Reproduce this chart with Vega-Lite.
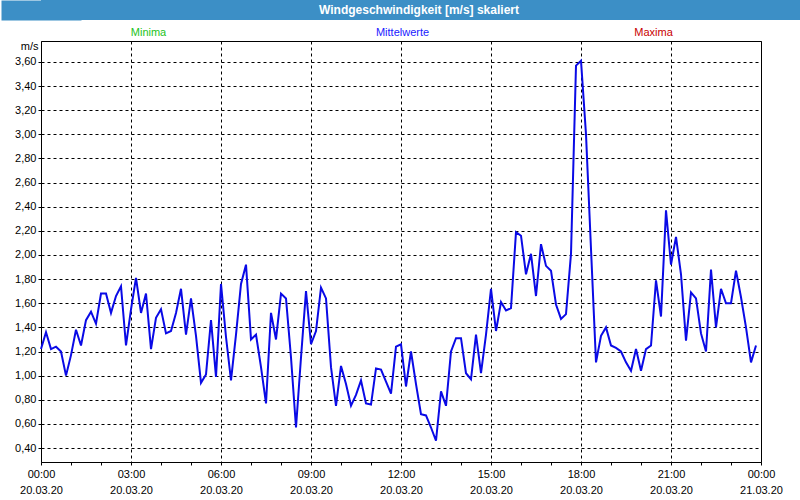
{
  "$schema": "https://vega.github.io/schema/vega-lite/v6.json",
  "padding": 0,
  "autosize": {"type": "pad"},
  "background": "#ffffff",
  "spacing": 0,
  "config": {"font": "Liberation Sans", "concat": {"spacing": 0}},
  "vconcat": [
    {
      "width": 760,
      "height": 20,
      "view": {"fill": "#3c8fc6", "stroke": null},
      "data": {"values": [{"title": "Windgeschwindigkeit [m/s] skaliert"}]},
      "mark": {"type": "text", "color": "#ffffff", "fontWeight": "bold", "fontSize": 12, "dx": -2, "baseline": "middle"},
      "encoding": {
        "text": {"field": "title", "type": "nominal"},
        "y": {
          "datum": 0,
          "type": "quantitative",
          "scale": {"domain": [-1, 1]},
          "axis": {"domain": true, "domainColor": "#3c8fc6", "domainWidth": 80, "domainCap": "butt", "ticks": false, "labels": false, "grid": false, "title": null, "minExtent": 40, "maxExtent": 40}
        }
      }
    },
    {
      "width": 720,
      "height": 421,
      "view": {"stroke": "#000000", "strokeWidth": 1, "fill": "#ffffff"},
      "data": {"values": [
        {"t":"2020-03-20T00:00:00Z","v":1.22},{"t":"2020-03-20T00:10:00Z","v":1.36},{"t":"2020-03-20T00:20:00Z","v":1.22},{"t":"2020-03-20T00:30:00Z","v":1.24},{"t":"2020-03-20T00:40:00Z","v":1.20},{"t":"2020-03-20T00:50:00Z","v":1.00},
        {"t":"2020-03-20T01:00:00Z","v":1.17},{"t":"2020-03-20T01:10:00Z","v":1.38},{"t":"2020-03-20T01:20:00Z","v":1.25},{"t":"2020-03-20T01:30:00Z","v":1.46},{"t":"2020-03-20T01:40:00Z","v":1.53},{"t":"2020-03-20T01:50:00Z","v":1.43},
        {"t":"2020-03-20T02:00:00Z","v":1.68},{"t":"2020-03-20T02:10:00Z","v":1.68},{"t":"2020-03-20T02:20:00Z","v":1.52},{"t":"2020-03-20T02:30:00Z","v":1.66},{"t":"2020-03-20T02:40:00Z","v":1.74},{"t":"2020-03-20T02:50:00Z","v":1.25},
        {"t":"2020-03-20T03:00:00Z","v":1.55},{"t":"2020-03-20T03:10:00Z","v":1.81},{"t":"2020-03-20T03:20:00Z","v":1.52},{"t":"2020-03-20T03:30:00Z","v":1.68},{"t":"2020-03-20T03:40:00Z","v":1.22},{"t":"2020-03-20T03:50:00Z","v":1.48},
        {"t":"2020-03-20T04:00:00Z","v":1.55},{"t":"2020-03-20T04:10:00Z","v":1.35},{"t":"2020-03-20T04:20:00Z","v":1.37},{"t":"2020-03-20T04:30:00Z","v":1.52},{"t":"2020-03-20T04:40:00Z","v":1.72},{"t":"2020-03-20T04:50:00Z","v":1.34},
        {"t":"2020-03-20T05:00:00Z","v":1.64},{"t":"2020-03-20T05:10:00Z","v":1.33},{"t":"2020-03-20T05:20:00Z","v":0.94},{"t":"2020-03-20T05:30:00Z","v":1.01},{"t":"2020-03-20T05:40:00Z","v":1.46},{"t":"2020-03-20T05:50:00Z","v":0.99},
        {"t":"2020-03-20T06:00:00Z","v":1.76},{"t":"2020-03-20T06:10:00Z","v":1.32},{"t":"2020-03-20T06:20:00Z","v":0.96},{"t":"2020-03-20T06:30:00Z","v":1.34},{"t":"2020-03-20T06:40:00Z","v":1.76},{"t":"2020-03-20T06:50:00Z","v":1.92},
        {"t":"2020-03-20T07:00:00Z","v":1.30},{"t":"2020-03-20T07:10:00Z","v":1.34},{"t":"2020-03-20T07:20:00Z","v":1.07},{"t":"2020-03-20T07:30:00Z","v":0.77},{"t":"2020-03-20T07:40:00Z","v":1.52},{"t":"2020-03-20T07:50:00Z","v":1.30},
        {"t":"2020-03-20T08:00:00Z","v":1.68},{"t":"2020-03-20T08:10:00Z","v":1.64},{"t":"2020-03-20T08:20:00Z","v":1.15},{"t":"2020-03-20T08:30:00Z","v":0.57},{"t":"2020-03-20T08:40:00Z","v":1.15},{"t":"2020-03-20T08:50:00Z","v":1.70},
        {"t":"2020-03-20T09:00:00Z","v":1.26},{"t":"2020-03-20T09:10:00Z","v":1.37},{"t":"2020-03-20T09:20:00Z","v":1.73},{"t":"2020-03-20T09:30:00Z","v":1.64},{"t":"2020-03-20T09:40:00Z","v":1.07},{"t":"2020-03-20T09:50:00Z","v":0.75},
        {"t":"2020-03-20T10:00:00Z","v":1.08},{"t":"2020-03-20T10:10:00Z","v":0.93},{"t":"2020-03-20T10:20:00Z","v":0.75},{"t":"2020-03-20T10:30:00Z","v":0.84},{"t":"2020-03-20T10:40:00Z","v":0.96},{"t":"2020-03-20T10:50:00Z","v":0.77},
        {"t":"2020-03-20T11:00:00Z","v":0.76},{"t":"2020-03-20T11:10:00Z","v":1.06},{"t":"2020-03-20T11:20:00Z","v":1.05},{"t":"2020-03-20T11:30:00Z","v":0.95},{"t":"2020-03-20T11:40:00Z","v":0.85},{"t":"2020-03-20T11:50:00Z","v":1.24},
        {"t":"2020-03-20T12:00:00Z","v":1.26},{"t":"2020-03-20T12:10:00Z","v":0.91},{"t":"2020-03-20T12:20:00Z","v":1.20},{"t":"2020-03-20T12:30:00Z","v":0.93},{"t":"2020-03-20T12:40:00Z","v":0.68},{"t":"2020-03-20T12:50:00Z","v":0.67},
        {"t":"2020-03-20T13:00:00Z","v":0.57},{"t":"2020-03-20T13:10:00Z","v":0.46},{"t":"2020-03-20T13:20:00Z","v":0.87},{"t":"2020-03-20T13:30:00Z","v":0.75},{"t":"2020-03-20T13:40:00Z","v":1.20},{"t":"2020-03-20T13:50:00Z","v":1.31},
        {"t":"2020-03-20T14:00:00Z","v":1.31},{"t":"2020-03-20T14:10:00Z","v":1.02},{"t":"2020-03-20T14:20:00Z","v":0.97},{"t":"2020-03-20T14:30:00Z","v":1.34},{"t":"2020-03-20T14:40:00Z","v":1.02},{"t":"2020-03-20T14:50:00Z","v":1.34},
        {"t":"2020-03-20T15:00:00Z","v":1.72},{"t":"2020-03-20T15:10:00Z","v":1.37},{"t":"2020-03-20T15:20:00Z","v":1.61},{"t":"2020-03-20T15:30:00Z","v":1.54},{"t":"2020-03-20T15:40:00Z","v":1.56},{"t":"2020-03-20T15:50:00Z","v":2.19},
        {"t":"2020-03-20T16:00:00Z","v":2.16},{"t":"2020-03-20T16:10:00Z","v":1.84},{"t":"2020-03-20T16:20:00Z","v":2.01},{"t":"2020-03-20T16:30:00Z","v":1.66},{"t":"2020-03-20T16:40:00Z","v":2.09},{"t":"2020-03-20T16:50:00Z","v":1.91},
        {"t":"2020-03-20T17:00:00Z","v":1.87},{"t":"2020-03-20T17:10:00Z","v":1.59},{"t":"2020-03-20T17:20:00Z","v":1.47},{"t":"2020-03-20T17:30:00Z","v":1.51},{"t":"2020-03-20T17:40:00Z","v":2.01},{"t":"2020-03-20T17:50:00Z","v":3.57},
        {"t":"2020-03-20T18:00:00Z","v":3.61},{"t":"2020-03-20T18:10:00Z","v":3.00},{"t":"2020-03-20T18:20:00Z","v":2.05},{"t":"2020-03-20T18:30:00Z","v":1.11},{"t":"2020-03-20T18:40:00Z","v":1.33},{"t":"2020-03-20T18:50:00Z","v":1.40},
        {"t":"2020-03-20T19:00:00Z","v":1.25},{"t":"2020-03-20T19:10:00Z","v":1.23},{"t":"2020-03-20T19:20:00Z","v":1.20},{"t":"2020-03-20T19:30:00Z","v":1.11},{"t":"2020-03-20T19:40:00Z","v":1.04},{"t":"2020-03-20T19:50:00Z","v":1.22},
        {"t":"2020-03-20T20:00:00Z","v":1.04},{"t":"2020-03-20T20:10:00Z","v":1.22},{"t":"2020-03-20T20:20:00Z","v":1.25},{"t":"2020-03-20T20:30:00Z","v":1.79},{"t":"2020-03-20T20:40:00Z","v":1.49},{"t":"2020-03-20T20:50:00Z","v":2.37},
        {"t":"2020-03-20T21:00:00Z","v":1.92},{"t":"2020-03-20T21:10:00Z","v":2.15},{"t":"2020-03-20T21:20:00Z","v":1.84},{"t":"2020-03-20T21:30:00Z","v":1.29},{"t":"2020-03-20T21:40:00Z","v":1.69},{"t":"2020-03-20T21:50:00Z","v":1.64},
        {"t":"2020-03-20T22:00:00Z","v":1.35},{"t":"2020-03-20T22:10:00Z","v":1.20},{"t":"2020-03-20T22:20:00Z","v":1.88},{"t":"2020-03-20T22:30:00Z","v":1.40},{"t":"2020-03-20T22:40:00Z","v":1.72},{"t":"2020-03-20T22:50:00Z","v":1.60},
        {"t":"2020-03-20T23:00:00Z","v":1.60},{"t":"2020-03-20T23:10:00Z","v":1.87},{"t":"2020-03-20T23:20:00Z","v":1.65},{"t":"2020-03-20T23:30:00Z","v":1.40},{"t":"2020-03-20T23:40:00Z","v":1.11},{"t":"2020-03-20T23:50:00Z","v":1.25}
      ]},
      "encoding": {
        "y": {
          "field": "v",
          "type": "quantitative",
          "scale": {"domain": [0.284, 3.774], "nice": false, "zero": false},
          "axis": {
            "values": [0.4, 0.6, 0.8, 1.0, 1.2, 1.4, 1.6, 1.8, 2.0, 2.2, 2.4, 2.6, 2.8, 3.0, 3.2, 3.4, 3.6],
            "labelExpr": "replace(format(datum.value, '.2f'), '.', ',')",
            "labelFontSize": 11,
            "labelColor": "#000000",
            "labelPadding": 2,
            "tickSize": 3,
            "tickColor": "#000000",
            "domain": false,
            "grid": true,
            "gridColor": "#000000",
            "gridOpacity": 1,
            "gridDash": [3, 3],
            "minExtent": 40,
            "maxExtent": 40,
            "title": "m/s",
            "titleAngle": 0,
            "titleAlign": "right",
            "titleBaseline": "middle",
            "titleX": -3,
            "titleY": 5,
            "titleFontSize": 11,
            "titleFontWeight": "normal",
            "titleColor": "#000000"
          }
        }
      },
      "layer": [
        {
          "mark": {"type": "line", "color": "#0a0ae6", "strokeWidth": 2},
          "encoding": {
            "x": {
              "field": "t",
              "type": "temporal",
              "scale": {"type": "utc", "domain": [{"year": 2020, "month": 3, "date": 20, "hours": 0, "utc": true}, {"year": 2020, "month": 3, "date": 21, "hours": 0, "utc": true}], "nice": false},
              "axis": {
                "orient": "bottom",
                "values": [
                  {"year": 2020, "month": 3, "date": 20, "hours": 0, "utc": true},
                  {"year": 2020, "month": 3, "date": 20, "hours": 1, "utc": true},
                  {"year": 2020, "month": 3, "date": 20, "hours": 2, "utc": true},
                  {"year": 2020, "month": 3, "date": 20, "hours": 3, "utc": true},
                  {"year": 2020, "month": 3, "date": 20, "hours": 4, "utc": true},
                  {"year": 2020, "month": 3, "date": 20, "hours": 5, "utc": true},
                  {"year": 2020, "month": 3, "date": 20, "hours": 6, "utc": true},
                  {"year": 2020, "month": 3, "date": 20, "hours": 7, "utc": true},
                  {"year": 2020, "month": 3, "date": 20, "hours": 8, "utc": true},
                  {"year": 2020, "month": 3, "date": 20, "hours": 9, "utc": true},
                  {"year": 2020, "month": 3, "date": 20, "hours": 10, "utc": true},
                  {"year": 2020, "month": 3, "date": 20, "hours": 11, "utc": true},
                  {"year": 2020, "month": 3, "date": 20, "hours": 12, "utc": true},
                  {"year": 2020, "month": 3, "date": 20, "hours": 13, "utc": true},
                  {"year": 2020, "month": 3, "date": 20, "hours": 14, "utc": true},
                  {"year": 2020, "month": 3, "date": 20, "hours": 15, "utc": true},
                  {"year": 2020, "month": 3, "date": 20, "hours": 16, "utc": true},
                  {"year": 2020, "month": 3, "date": 20, "hours": 17, "utc": true},
                  {"year": 2020, "month": 3, "date": 20, "hours": 18, "utc": true},
                  {"year": 2020, "month": 3, "date": 20, "hours": 19, "utc": true},
                  {"year": 2020, "month": 3, "date": 20, "hours": 20, "utc": true},
                  {"year": 2020, "month": 3, "date": 20, "hours": 21, "utc": true},
                  {"year": 2020, "month": 3, "date": 20, "hours": 22, "utc": true},
                  {"year": 2020, "month": 3, "date": 20, "hours": 23, "utc": true},
                  {"year": 2020, "month": 3, "date": 21, "hours": 0, "utc": true}
                ],
                "labelExpr": "utchours(datum.value) % 3 == 0 ? [utcFormat(datum.value, '%H:%M'), utcFormat(datum.value, '%d.%m.%y')] : ''",
                "labelFontSize": 11,
                "labelColor": "#000000",
                "labelLineHeight": 16,
                "labelPadding": 3,
                "labelFlush": false,
                "labelOverlap": false,
                "labelAngle": 0,
                "tickSize": 3,
                "tickColor": "#000000",
                "domain": false,
                "grid": true,
                "gridColor": {"condition": {"test": "utchours(datum.value) % 3 != 0", "value": "rgba(0,0,0,0)"}, "value": "#000000"},
                "gridOpacity": 1,
                "gridDash": [3, 3],
                "title": null
              }
            }
          }
        },
        {
          "mark": {"type": "line", "strokeOpacity": 0},
          "encoding": {
            "x": {
              "field": "t",
              "type": "temporal",
              "scale": {"type": "utc", "domain": [{"year": 2020, "month": 3, "date": 20, "hours": 0, "utc": true}, {"year": 2020, "month": 3, "date": 21, "hours": 0, "utc": true}], "nice": false},
              "axis": {
                "orient": "top",
                "values": [
                  {"year": 2020, "month": 3, "date": 20, "hours": 3, "minutes": 34, "utc": true},
                  {"year": 2020, "month": 3, "date": 20, "hours": 12, "minutes": 2, "utc": true},
                  {"year": 2020, "month": 3, "date": 20, "hours": 20, "minutes": 24, "utc": true}
                ],
                "labelExpr": "utchours(datum.value) < 6 ? 'Minima' : (utchours(datum.value) < 16 ? 'Mittelwerte' : 'Maxima')",
                "labelColor": {"condition": [{"test": "utchours(datum.value) < 6", "value": "#22c322"}, {"test": "utchours(datum.value) > 16", "value": "#c80000"}], "value": "#1a1aff"},
                "labelFontSize": 11,
                "labelPadding": 4,
                "labelFlush": false,
                "labelOverlap": false,
                "labelAngle": 0,
                "ticks": false,
                "tickSize": 0,
                "domain": false,
                "grid": false,
                "title": null,
                "minExtent": 20,
                "maxExtent": 20
              }
            }
          }
        }
      ],
      "resolve": {"axis": {"x": "independent"}}
    }
  ]
}
